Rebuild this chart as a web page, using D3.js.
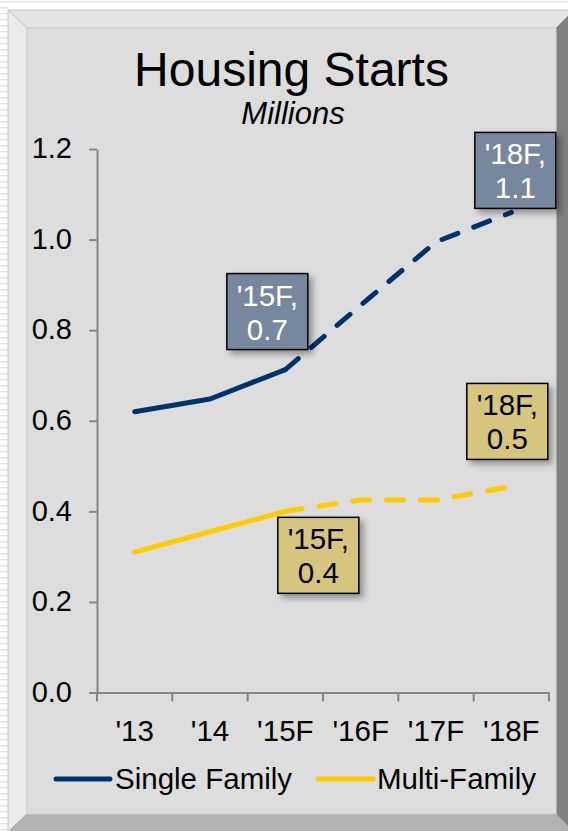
<!DOCTYPE html>
<html>
<head>
<meta charset="utf-8">
<script src="https://cdn.jsdelivr.net/npm/d3@7"></script>
<style>
  html, body { margin: 0; padding: 0; background: #ffffff; }
  svg { display: block; font-family: "Liberation Sans", Arial, sans-serif; }
</style>
</head>
<body>
<svg id="chart" width="568" height="831"></svg>
<script>
// ---- data ----
const categories = ["'13", "'14", "'15F", "'16F", "'17F", "'18F"];
const singleFamily = [0.62, 0.648, 0.713, 0.855, 0.995, 1.06];
const multiFamily = [0.31, 0.355, 0.40, 0.425, 0.425, 0.455];
const yTicks = [0.0, 0.2, 0.4, 0.6, 0.8, 1.0, 1.2];
const seriesNames = ["Single Family", "Multi-Family"];
const forecastFrom = 2;           // index where the forecast (dashed) part starts
const labelled = [2, 5];          // indices that carry a data label

// ---- layout ----
const W = 568, H = 831;
const plot = { left: 97, right: 549, top: 149, bottom: 692.5 };
const colors = { single: "#00336c", multi: "#ffcc00", axis: "#868686" };
const fontSize = 29.5;

const svg = d3.select("#chart");
const defs = svg.append("defs");

// soft drop shadow for the label boxes
const shadow = defs.append("filter").attr("id", "shadow")
  .attr("x", "-30%").attr("y", "-30%").attr("width", "160%").attr("height", "160%");
shadow.append("feDropShadow").attr("dx", 4).attr("dy", 4)
  .attr("stdDeviation", 3).attr("flood-color", "#000").attr("flood-opacity", 0.35);

// page background: faint stripes on the left margin and top
const bg = svg.append("g");
bg.append("rect").attr("width", W).attr("height", H).attr("fill", "#ffffff");
bg.selectAll("rect.stripe").data(d3.range(0, H, 6)).join("rect")
  .attr("class", "stripe").attr("x", 0).attr("y", d => d + 1)
  .attr("width", 8).attr("height", 1.4).attr("fill", "#e3e3e3");
bg.append("rect").attr("x", 0).attr("y", 1).attr("width", W).attr("height", 1.6).attr("fill", "#e6e6e6");

// bevelled frame
const frame = svg.append("g");
const o = { l: 8, t: 10, r: 574, b: 832 };
const i = { l: 27, t: 28, r: 556, b: 814 };
frame.append("polygon") // top bevel
  .attr("points", [[o.l, o.t], [o.r, o.t], [i.r, i.t], [i.l, i.t]].join(" "))
  .attr("fill", "#e4e4e4").attr("stroke", "#c4c4c4").attr("stroke-width", 1);
frame.append("polygon") // left bevel
  .attr("points", [[o.l, o.t], [i.l, i.t], [i.l, i.b], [o.l, o.b]].join(" "))
  .attr("fill", "#eaeaea").attr("stroke", "#c4c4c4").attr("stroke-width", 1);
frame.append("polygon") // right bevel
  .attr("points", [[o.r, o.t], [o.r, o.b], [i.r, i.b], [i.r, i.t]].join(" "))
  .attr("fill", "#808080").attr("stroke", "#9a9a9a").attr("stroke-width", 1);
frame.append("polygon") // bottom bevel
  .attr("points", [[o.l, o.b], [i.l, i.b], [i.r, i.b], [o.r, o.b]].join(" "))
  .attr("fill", "#b2b2b2").attr("stroke", "#a8a8a8").attr("stroke-width", 1);
frame.append("rect") // face
  .attr("x", i.l).attr("y", i.t).attr("width", i.r - i.l).attr("height", i.b - i.t)
  .attr("fill", "#dddddd").attr("stroke", "#cfcfcf").attr("stroke-width", 1);

// title
svg.append("text").attr("x", 291.5).attr("y", 86).attr("text-anchor", "middle")
  .attr("font-size", 48).attr("fill", "#000").text("Housing Starts");
svg.append("text").attr("x", 293).attr("y", 124).attr("text-anchor", "middle")
  .attr("font-size", 31).attr("font-style", "italic").attr("fill", "#000").text("Millions");

// scales
const x = d3.scaleBand().domain(categories).range([plot.left, plot.right]).padding(0);
const cx = c => x(c) + x.bandwidth() / 2;
const y = d3.scaleLinear().domain([0, 1.2]).range([plot.bottom, plot.top]);

// y axis
const yAxis = svg.append("g").attr("transform", `translate(${plot.left},0)`)
  .call(d3.axisLeft(y).tickValues(yTicks).tickFormat(d3.format(".1f"))
    .tickSize(8).tickSizeOuter(0).tickPadding(17));
yAxis.select(".domain").attr("stroke", colors.axis).attr("stroke-width", 2);
yAxis.selectAll(".tick line").attr("stroke", colors.axis).attr("stroke-width", 2);
yAxis.selectAll(".tick text").attr("font-size", 29).attr("fill", "#000")
  .attr("dy", "0.3em")
  .attr("font-family", "Liberation Sans, Arial, sans-serif");

// x axis: labels centred in each category, tick marks on the category boundaries
const xAxis = svg.append("g").attr("transform", `translate(0,${plot.bottom})`)
  .call(d3.axisBottom(x).tickSize(0).tickSizeOuter(0).tickPadding(28));
xAxis.select(".domain").attr("stroke", colors.axis).attr("stroke-width", 2);
xAxis.selectAll(".tick text").attr("font-size", fontSize).attr("fill", "#000")
  .attr("font-family", "Liberation Sans, Arial, sans-serif");
const boundaries = categories.map(c => x(c)).concat([x.range()[1]]);
xAxis.selectAll("line.bound").data(boundaries).join("line").attr("class", "bound")
  .attr("x1", d => d).attr("x2", d => d).attr("y1", 0).attr("y2", 9)
  .attr("stroke", colors.axis).attr("stroke-width", 2);

// series
const series = [
  { name: seriesNames[0], values: singleFamily, color: colors.single,
    box: "#76879e", text: "#ffffff",
    offsets: { 2: [-18, -58], 5: [4, -42] } },
  { name: seriesNames[1], values: multiFamily, color: colors.multi,
    box: "#d6c57e", text: "#000000",
    offsets: { 2: [33, 44], 5: [-4, -65] } }
];

const line = d3.line().x(d => cx(d.c)).y(d => y(d.v));
const lines = svg.append("g");
series.forEach(s => {
  const pts = categories.map((c, k) => ({ c, v: s.values[k] }));
  lines.append("path").attr("d", line(pts.slice(0, forecastFrom + 1)))
    .attr("fill", "none").attr("stroke", s.color).attr("stroke-width", 5)
    .attr("stroke-linecap", "round").attr("stroke-linejoin", "round");
  lines.append("path").attr("d", line(pts.slice(forecastFrom)))
    .attr("fill", "none").attr("stroke", s.color).attr("stroke-width", 5)
    .attr("stroke-linecap", "round").attr("stroke-linejoin", "round")
    .attr("stroke-dasharray", "17,17");
});

// data labels
const bw = 81, bh = 76;
const fmt = d3.format(".1f");
const labels = svg.append("g");
series.forEach(s => {
  labelled.forEach(k => {
    const [dx, dy] = s.offsets[k];
    const px = cx(categories[k]) + dx, py = y(s.values[k]) + dy;
    const g = labels.append("g").attr("transform", `translate(${px - bw / 2},${py - bh / 2})`);
    g.append("rect").attr("width", bw).attr("height", bh)
      .attr("fill", s.box).attr("stroke", "#000").attr("stroke-width", 1.5)
      .attr("filter", "url(#shadow)");
    g.append("text").attr("x", bw / 2).attr("y", 32).attr("text-anchor", "middle")
      .attr("font-size", fontSize).attr("fill", s.text).text(categories[k] + ",");
    g.append("text").attr("x", bw / 2).attr("y", 66).attr("text-anchor", "middle")
      .attr("font-size", fontSize).attr("fill", s.text).text(fmt(s.values[k]));
  });
});

// legend
const legend = svg.append("g");
const legendItems = [
  { name: seriesNames[0], color: colors.single, x0: 56, x1: 110, tx: 115 },
  { name: seriesNames[1], color: colors.multi, x0: 318, x1: 373, tx: 377 }
];
legendItems.forEach(it => {
  legend.append("line").attr("x1", it.x0).attr("x2", it.x1).attr("y1", 779).attr("y2", 779)
    .attr("stroke", it.color).attr("stroke-width", 5).attr("stroke-linecap", "round");
  legend.append("text").attr("x", it.tx).attr("y", 789).attr("font-size", fontSize)
    .attr("fill", "#000").text(it.name);
});
</script>
</body>
</html>
